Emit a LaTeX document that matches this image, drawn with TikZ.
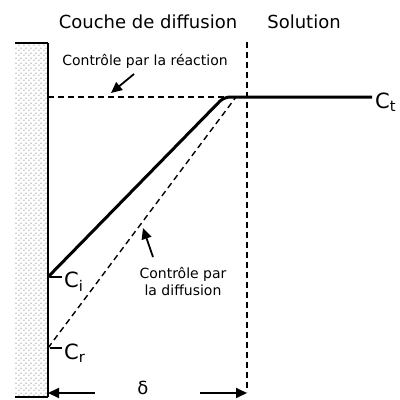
\documentclass[tikz,border=0pt]{standalone}
\usepackage{fontspec}
\setmainfont{DejaVu Sans}
\usetikzlibrary{patterns,arrows.meta}
\pgfdeclarepatternformonly{sparsedots}{\pgfpointorigin}{\pgfqpoint{4.5pt}{4.5pt}}{\pgfqpoint{4.5pt}{4.5pt}}{%
  \pgfpathcircle{\pgfqpoint{1pt}{1pt}}{0.55pt}%
  \pgfpathcircle{\pgfqpoint{3.25pt}{3.25pt}}{0.55pt}%
  \pgfusepath{fill}}
\begin{document}
\begin{tikzpicture}[x=1pt,y=-1pt,
  thickline/.style={line width=3pt},
  dashline/.style={line width=1.4pt,dash pattern=on 6pt off 4pt},
  lab/.style={inner sep=0pt,font=\fontsize{14}{17}\selectfont},
  head/.style={inner sep=0pt,font=\fontsize{18}{20}\selectfont},
  conc/.style={inner sep=0pt,anchor=west,font=\fontsize{21}{22}\selectfont},
  arr/.style={line width=1.8pt,-{Triangle[length=11pt,width=10pt]}}]
\useasboundingbox (0,0) rectangle (400,400);
% electrode
\fill[pattern=sparsedots,pattern color=black!80] (15,43) rectangle (48,397);
\draw[line width=1.2pt] (15,43) -- (48,43);
\draw[line width=1.2pt] (15,397) -- (48,397);
\draw[line width=1.6pt] (48,43) -- (48,397);
% coordinates
\coordinate (wt) at (48,97);
\coordinate (wi) at (48,277);
\coordinate (wr) at (48,348);
\coordinate (kn) at (224,97);
\coordinate (dt) at (236,97);
\coordinate (ct) at (372,97);
\coordinate (vt) at (247,42);
\coordinate (vb) at (247,392);
% headers
\node[head] (hd) at (148,22) {Couche de diffusion};
\node[head] (hs) at (304,22) {Solution};
% boundary
\draw[dashline] (vt) -- (vb);
% reaction control
\draw[dashline] (wt) -- (kn);
% diffusion control
\draw[dashline] (wr) -- (dt);
% actual profile
\draw[thickline,rounded corners=6pt] (wi) -- (kn) -- (ct);
% labels C
\node[conc] (Ct) at (375,102) {C\textsubscript{t}};
\draw[line width=1.2pt] (50,277) -- (62,277);
\node[conc] (Ci) at (64,282) {C\textsubscript{i}};
\draw[line width=1.2pt] (50,348) -- (62,348);
\node[conc] (Cr) at (64,353) {C\textsubscript{r}};
% annotation texts
\node[lab] (tr) at (145,61) {Contrôle par la réaction};
\node[lab,align=center] (tdf) at (183,281) {Contrôle par\\la diffusion};
\coordinate (ra) at (134,74);
\coordinate (rb) at (111,93);
\draw[arr] (ra) -- (rb);
\coordinate (da) at (153,257);
\coordinate (db) at (143,228);
\draw[arr] (da) -- (db);
% delta
\node[head] (dl) at (143,388) {δ};
\coordinate (la) at (95,393);
\coordinate (lb) at (48,393);
\coordinate (rra) at (200,393);
\coordinate (rrb) at (247,393);
\draw[arr] (la) -- (lb);
\draw[arr] (rra) -- (rrb);
\end{tikzpicture}
\end{document}
